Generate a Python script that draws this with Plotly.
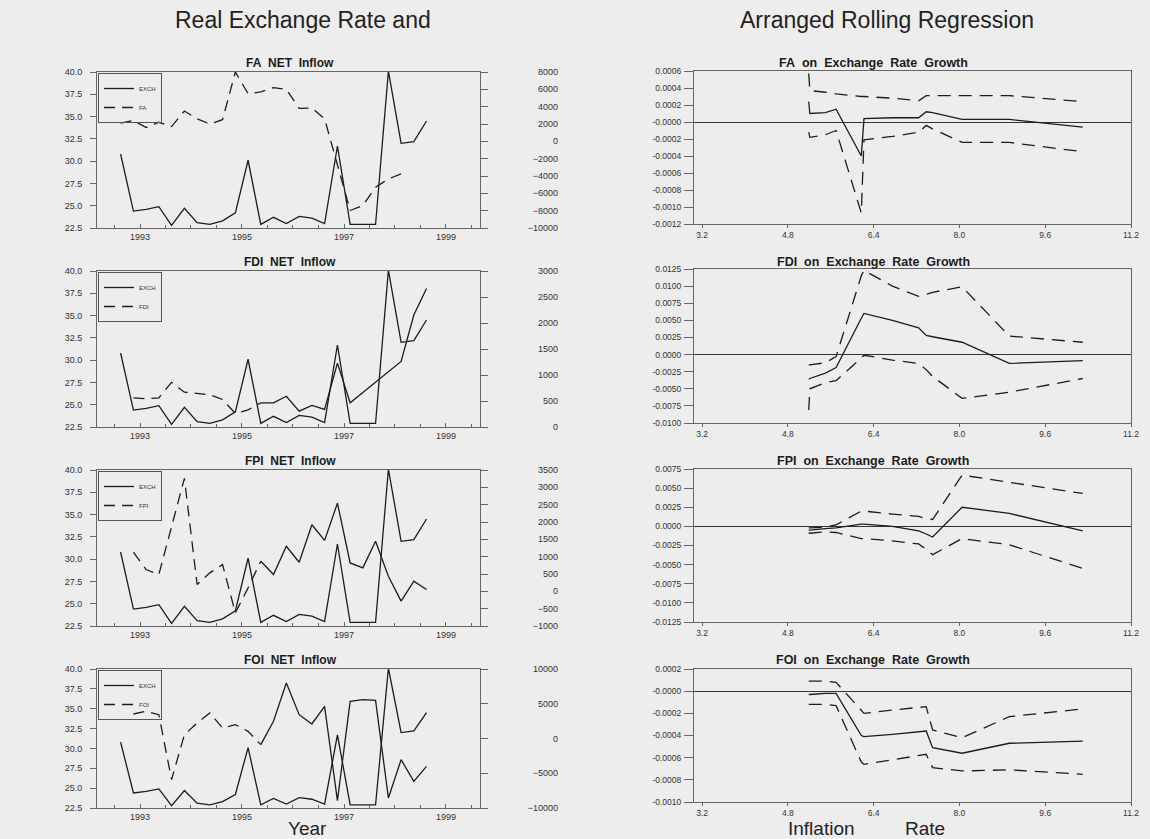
import pandas as pd
import plotly.graph_objects as go

W, H = 1150, 839

# ---------------- data: left panels (quarterly) ----------------
QUARTERS = [str(p) for p in pd.period_range("1992Q3", "1998Q3", freq="Q")]

EXCH = [30.8, 24.4, 24.6, 24.9, 22.8, 24.7, 23.1, 22.9, 23.3, 24.2, 30.1, 22.9, 23.7,
        23.0, 23.8, 23.6, 23.0, 31.7, 22.9, 22.9, 22.9, 40.1, 32.0, 32.2, 34.5]
FA = [2100, 2400, 1600, 2200, 1700, 3500, 2600, 2000, 2500, 8000, 5500, 5700, 6200,
      6000, 3800, 3850, 2600, -2700, -7980, -7400, -5300, -4340, -3760, None, None]
FDI = [None, 560, 545, 560, 860, 670, 650, 620, 530, 260, 330, 465, 465,
       592, 306, 414, 338, 1229, 465, 665, 864, 1062, 1261, 2153, 2663]
FPI = [None, 1126, 628, 484, 1900, 3260, 197, 532, 770, -617, 100, 867, 484,
       1298, 838, 1920, 1470, 2543, 819, 676, 1442, 436, -282, 293, 53]
FOI = [None, 3525, 3909, 3430, -5923, 552, 2230, 3669, 1511, 1990, 1031, -887, 2470,
       7986, 3430, 2087, 4629, -8944, 5348, 5588, 5492, -8560, -3045, -6163, -4000]

FLOW_NAMES = ["FA", "FDI", "FPI", "FOI"]
FLOWS = [FA, FDI, FPI, FOI]
SOLID_FROM = [None, 11, 11, 11]          # index where the scanned line turns solid
FLOW_RANGES = [[-10000, 8000], [0, 3000], [-1000, 3500], [-10000, 10000]]
FLOW_DTICK = [2000, 500, 500, 5000]
EXCH_RANGE = [22.5, 40.0]
YEAR_TICKS = ["1993-01-01", "1995-01-01", "1997-01-01", "1999-01-01"]
YEAR_LABELS = ["1993", "1995", "1997", "1999"]

# ---------------- data: right panels (rolling regression) ----------------
INFL = [5.19, 5.21, 5.50, 5.70, 6.17, 6.22, 6.75, 7.24, 7.38, 7.50, 8.05, 8.93, 10.30]

FA_COEF = [0.00024, 0.00010, 0.00011, 0.00015, -0.00040, 0.00004, 0.00005, 0.00005,
           0.00012, 0.00011, 0.00003, 0.00003, -0.00006]
FA_UP = [0.00057, 0.00037, 0.00035, 0.00033, 0.00030, 0.00030, 0.00028, 0.00025,
         0.00031, 0.00031, 0.00031, 0.00031, 0.00024]
FA_LO = [-0.00012, -0.00018, -0.00015, -0.00010, -0.00107, -0.00021, -0.00017, -0.00012,
         -0.00004, -0.00008, -0.00024, -0.00024, -0.00035]

FDI_COEF = [-0.0036, -0.0035, -0.0027, -0.0019, 0.0053, 0.0060, 0.0050, 0.0039,
            0.0028, 0.0026, 0.0018, -0.0013, -0.0009]
FDI_UP = [-0.0015, -0.0015, -0.0012, -0.0003, 0.0115, 0.0123, 0.0100, 0.0085,
          0.0088, 0.0091, 0.0099, 0.0027, 0.0018]
FDI_LO = [-0.0081, -0.0050, -0.0041, -0.0038, -0.0005, -0.0001, -0.0008, -0.0013,
          -0.0022, -0.0032, -0.0064, -0.0055, -0.0035]

FPI_COEF = [-0.0005, -0.0005, -0.0003, -0.0002, 0.0003, 0.0003, 0.0000, -0.0006,
            -0.0010, -0.0014, 0.0025, 0.0017, -0.0006]
FPI_UP = [-0.0002, -0.0002, -0.0001, 0.0002, 0.0020, 0.0020, 0.0016, 0.0013,
          0.0010, 0.0009, 0.0067, 0.0058, 0.0043]
FPI_LO = [-0.0009, -0.0009, -0.0007, -0.0008, -0.0016, -0.0016, -0.0019, -0.0023,
          -0.0030, -0.0037, -0.0016, -0.0024, -0.0055]

FOI_COEF = [-0.00003, -0.00003, -0.00002, -0.00002, -0.00040, -0.00041, -0.00039, -0.00037,
            -0.00036, -0.00051, -0.00056, -0.00047, -0.00045]
FOI_UP = [0.00009, 0.00009, 0.00009, 0.00008, -0.00018, -0.00020, -0.00017, -0.00015,
          -0.00014, -0.00035, -0.00042, -0.00023, -0.00016]
FOI_LO = [-0.00012, -0.00012, -0.00012, -0.00013, -0.00064, -0.00066, -0.00062, -0.00058,
          -0.00057, -0.00069, -0.00072, -0.00071, -0.00075]

COEFS = [FA_COEF, FDI_COEF, FPI_COEF, FOI_COEF]
UPS = [FA_UP, FDI_UP, FPI_UP, FOI_UP]
LOS = [FA_LO, FDI_LO, FPI_LO, FOI_LO]

INFL_TICKS = [3.2, 4.8, 6.4, 8.0, 9.6, 11.2]
INFL_LABELS = ["3.2", "4.8", "6.4", "8.0", "9.6", "11.2"]
COEF_TICKVALS = [
    [-0.0012, -0.0010, -0.0008, -0.0006, -0.0004, -0.0002, 0.0, 0.0002, 0.0004, 0.0006],
    [-0.0100, -0.0075, -0.0050, -0.0025, 0.0, 0.0025, 0.0050, 0.0075, 0.0100, 0.0125],
    [-0.0125, -0.0100, -0.0075, -0.0050, -0.0025, 0.0, 0.0025, 0.0050, 0.0075],
    [-0.0010, -0.0008, -0.0006, -0.0004, -0.0002, 0.0, 0.0002],
]
COEF_TICKTEXT = [
    ["-0.0012", "-0.0010", "-0.0008", "-0.0006", "-0.0004", "-0.0002", "-0.0000",
     "0.0002", "0.0004", "0.0006"],
    ["-0.0100", "-0.0075", "-0.0050", "-0.0025", "0.0000", "0.0025", "0.0050",
     "0.0075", "0.0100", "0.0125"],
    ["-0.0125", "-0.0100", "-0.0075", "-0.0050", "-0.0025", "0.0000", "0.0025",
     "0.0050", "0.0075"],
    ["-0.0010", "-0.0008", "-0.0006", "-0.0004", "-0.0002", "-0.0000", "0.0002"],
]
COEF_RANGES = [[-0.0012, 0.0006], [-0.0100, 0.0125], [-0.0125, 0.0075], [-0.0010, 0.0002]]

# ---------------- styling / layout ----------------
BG = "#ededed"
INK = "#1c1c1c"
AX = "#666666"
FONT = "Liberation Sans, Arial, sans-serif"
TICKFONT_L = dict(family=FONT, size=9, color="#333333")
TICKFONT_R = dict(family=FONT, size=8.5, color="#333333")

periods = pd.PeriodIndex(QUARTERS, freq="Q")
qdates = [(p.start_time + (p.end_time - p.start_time) / 2).strftime("%Y-%m-%d") for p in periods]

LEFT_X = [97 / W, 480 / W]
RIGHT_X = [694 / W, 1131 / W]
ROWS_L = [(72, 228), (271, 427), (470, 626), (669, 808)]
ROWS_R = [(71, 224), (269, 423), (469, 622), (669, 802)]
TITLE_Y = [63, 262, 461, 660]


def ydom(top, bot):
    return [1 - bot / H, 1 - top / H]


fig = go.Figure()
layout = dict(
    width=W, height=H, margin=dict(l=0, r=0, t=0, b=0),
    paper_bgcolor=BG, plot_bgcolor=BG, template="none",
    font=dict(family=FONT, color=INK), showlegend=True,
)
annotations = []

for k in range(4):
    a = k + 1
    xa, ya = f"x{a}", f"y{a}"
    yr, yl = f"y{a + 8}", f"y{a + 12}"
    lg = "legend" if k == 0 else f"legend{a}"
    name = FLOW_NAMES[k]
    flow = FLOWS[k]

    fig.add_trace(go.Scatter(x=qdates, y=EXCH, mode="lines", name="EXCH",
                             line=dict(color=INK, width=1.3), xaxis=xa, yaxis=ya,
                             legend=lg, hoverinfo="skip"))
    s = SOLID_FROM[k]
    dashed_y = flow if s is None else [v if i <= s else None for i, v in enumerate(flow)]
    fig.add_trace(go.Scatter(x=qdates, y=dashed_y, mode="lines", name=name,
                             line=dict(color=INK, width=1.3, dash="11px,7px"),
                             xaxis=xa, yaxis=yr, legend=lg, hoverinfo="skip",
                             connectgaps=False))
    if s is not None:
        solid_y = [v if i >= s else None for i, v in enumerate(flow)]
        fig.add_trace(go.Scatter(x=qdates, y=solid_y, mode="lines", name=name,
                                 line=dict(color=INK, width=1.3), xaxis=xa, yaxis=yr,
                                 showlegend=False, hoverinfo="skip"))
    fig.add_trace(go.Scatter(x=[], y=[], xaxis=xa, yaxis=yl, showlegend=False,
                             hoverinfo="skip"))

    top, bot = ROWS_L[k]
    layout[f"xaxis{a}"] = dict(
        domain=LEFT_X, anchor=ya, type="date",
        range=["1992-02-28", "1999-09-02"],
        tickvals=YEAR_TICKS, ticktext=YEAR_LABELS, ticks="inside", ticklen=4,
        tickcolor=AX, minor=dict(dtick="M6", tick0="1993-01-01", ticks="inside",
                                 ticklen=3, tickcolor=AX),
        showline=True, linecolor=AX, linewidth=1, mirror=True, showgrid=False,
        zeroline=False, tickfont=TICKFONT_L, automargin=False,
    )
    layout[f"yaxis{a}"] = dict(
        domain=ydom(top, bot), anchor=xa, range=EXCH_RANGE, dtick=2.5, tick0=22.5,
        tickformat=".1f", ticks="outside", ticklen=6, tickcolor=AX,
        ticklabelstandoff=6, showline=True, linecolor=AX, linewidth=1,
        showgrid=False, zeroline=False, tickfont=TICKFONT_L, automargin=False,
    )
    layout[f"yaxis{a + 8}"] = dict(
        overlaying=ya, anchor=xa, side="right", range=FLOW_RANGES[k],
        dtick=FLOW_DTICK[k], ticks="outside", ticklen=7, tickcolor=AX,
        showticklabels=False, showline=True, linecolor=AX, linewidth=1,
        showgrid=False, zeroline=False, automargin=False,
    )
    layout[f"yaxis{a + 12}"] = dict(
        overlaying=ya, anchor="free", position=558 / W, side="left",
        range=FLOW_RANGES[k], dtick=FLOW_DTICK[k], tickformat="d", ticks="",
        showline=False, showgrid=False, zeroline=False, tickfont=TICKFONT_L,
        automargin=False, ticklabelstandoff=0,
    )
    layout[lg] = dict(
        x=98 / W, y=1 - (top + 1) / H, xanchor="left", yanchor="top",
        bgcolor="rgba(0,0,0,0)", bordercolor="#555555", borderwidth=1,
        font=dict(family=FONT, size=6, color="#333333"), itemwidth=30,
        tracegroupgap=0,
    )
    annotations.append(dict(
        text=f"<b>{name}\u00a0 NET\u00a0 Inflow</b>", x=290 / W, y=1 - TITLE_Y[k] / H,
        xref="paper", yref="paper", showarrow=False, xanchor="center", yanchor="middle",
        font=dict(family=FONT, size=12, color=INK)))

    # right panel
    r = k + 5
    xr, yrr = f"x{r}", f"y{r}"
    for vals, dash in [(UPS[k], "13px,8px"), (COEFS[k], None), (LOS[k], "13px,8px")]:
        ln = dict(color=INK, width=1.3)
        if dash:
            ln["dash"] = dash
        fig.add_trace(go.Scatter(x=INFL, y=vals, mode="lines", line=ln, xaxis=xr,
                                 yaxis=yrr, showlegend=False, hoverinfo="skip"))
    rtop, rbot = ROWS_R[k]
    layout[f"xaxis{r}"] = dict(
        domain=RIGHT_X, anchor=yrr, range=[3.05, 11.2], tickvals=INFL_TICKS,
        ticktext=INFL_LABELS, ticks="outside", ticklen=3, tickcolor=AX,
        showline=True, linecolor=AX, linewidth=1, mirror=True, showgrid=False,
        zeroline=False, tickfont=TICKFONT_R, automargin=False,
    )
    layout[f"yaxis{r}"] = dict(
        domain=ydom(rtop, rbot), anchor=xr, range=COEF_RANGES[k],
        tickvals=COEF_TICKVALS[k], ticktext=COEF_TICKTEXT[k], ticks="outside",
        ticklen=9, tickcolor=AX, ticklabelstandoff=1, showline=True, linecolor=AX,
        linewidth=1, mirror=True, showgrid=False, zeroline=True, zerolinecolor="#333333",
        zerolinewidth=1.3, tickfont=TICKFONT_R, automargin=False,
    )
    annotations.append(dict(
        text=f"<b>{name}\u00a0 on\u00a0 Exchange\u00a0 Rate\u00a0 Growth</b>", x=873 / W,
        y=1 - TITLE_Y[k] / H, xref="paper", yref="paper", showarrow=False,
        xanchor="center", yanchor="middle", font=dict(family=FONT, size=12.5, color=INK)))

HEAD = dict(family=FONT, size=23, color="#222222")
FOOT = dict(family=FONT, size=19, color="#222222")
for txt, px, py, f in [("Real Exchange Rate and", 303, 20, HEAD),
                       ("Arranged Rolling Regression", 887, 20, HEAD),
                       ("Year", 307, 828, FOOT),
                       ("Inflation", 821, 828, FOOT),
                       ("Rate", 925, 828, FOOT)]:
    annotations.append(dict(text=txt, x=px / W, y=1 - py / H, xref="paper", yref="paper",
                            showarrow=False, xanchor="center", yanchor="middle", font=f))

layout["annotations"] = annotations
fig.update_layout(**layout)

fig.write_html("out.html", config={"displayModeBar": False},
               post_script="document.body.style.margin='0';document.body.style.overflow='hidden';")
